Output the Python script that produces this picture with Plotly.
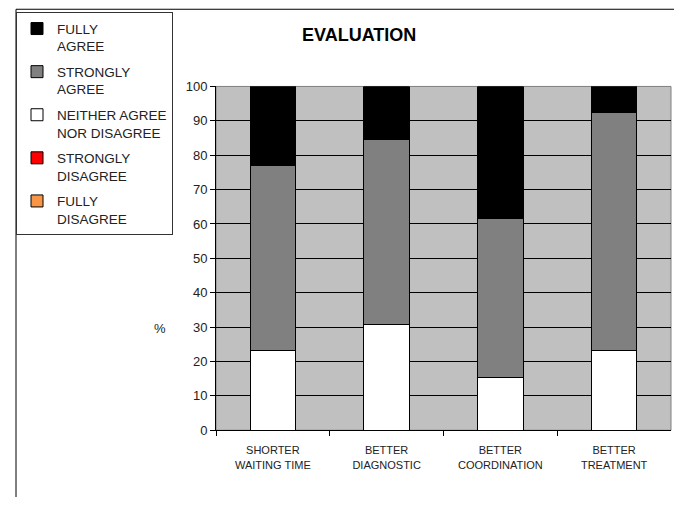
import plotly.graph_objects as go

W, H = 674, 505
S = 0.968      # vertical scale observed in the rendered page
OFF = 8        # top offset observed in the rendered page

categories = ["SHORTER<br>WAITING TIME", "BETTER<br>DIAGNOSTIC", "BETTER<br>COORDINATION", "BETTER<br>TREATMENT"]
fully_agree = [23.1, 15.4, 38.5, 7.7]
strongly_agree = [53.8, 53.8, 46.2, 69.2]
neither = [23.1, 30.8, 15.4, 23.1]
strongly_disagree = [0, 0, 0, 0]
fully_disagree = [0, 0, 0, 0]

# (name, values, colour, legend rank) in stacking order bottom -> top
series = [
    ("FULLY<br>DISAGREE", fully_disagree, "#F79646", 5),
    ("STRONGLY<br>DISAGREE", strongly_disagree, "#FF0000", 4),
    ("NEITHER AGREE<br>NOR DISAGREE", neither, "#FFFFFF", 3),
    ("STRONGLY<br>AGREE", strongly_agree, "#808080", 2),
    ("FULLY<br>AGREE", fully_agree, "#000000", 1),
]

FONT = "Arial, 'Liberation Sans', sans-serif"

fig = go.Figure()
for i, (name, vals, col, rank) in enumerate(series):
    fig.add_trace(go.Bar(
        x=categories, y=vals, name=name, legendgroup=str(i), legendrank=rank,
        marker=dict(color=col, line=dict(color="#000000", width=1)),
    ))

def px(x):
    return x / W

def py(y):
    fy = y / S - OFF
    return 1 - fy / H

fig.update_layout(
    width=W, height=H,
    margin=dict(l=0, r=0, t=0, b=0),
    paper_bgcolor="#FFFFFF",
    plot_bgcolor="#C0C0C0",
    barmode="stack",
    bargap=0.6,
    font=dict(family=FONT, size=13, color="#222222"),
    showlegend=True,
    legend=dict(
        x=px(16), y=py(13), xanchor="left", yanchor="top",
        traceorder="grouped", tracegroupgap=5,
        bgcolor="#FFFFFF", bordercolor="#333333", borderwidth=1,
        font=dict(family=FONT, size=13.5, color="#222222"),
        valign="top",
    ),
    xaxis=dict(
        domain=[px(216), px(671)],
        showline=True, linecolor="#000000", linewidth=1,
        ticks="outside", ticklen=5, tickcolor="#000000",
        tickson="boundaries", ticklabelstandoff=10,
        tickfont=dict(family=FONT, size=11, color="#222222"),
        showgrid=False, zeroline=False,
    ),
    yaxis=dict(
        domain=[py(430), py(87)],
        range=[0, 100],
        tickmode="array", tickvals=list(range(0, 101, 10)),
        showline=True, linecolor="#000000", linewidth=1,
        ticks="outside", ticklen=5, tickcolor="#000000",
        tickfont=dict(family=FONT, size=13, color="#222222"),
        showgrid=False, zeroline=False,
        minor=dict(tickvals=list(range(10, 100, 10)), showgrid=True,
                   gridcolor="#000000", gridwidth=1, ticks=""),
    ),
    shapes=[
        dict(type="rect", xref="x domain", yref="y domain", x0=0, x1=1, y0=0, y1=1,
             line=dict(color="#808080", width=1), layer="below"),
        dict(type="line", xref="paper", yref="paper", x0=px(16), x1=1, y0=py(10), y1=py(10),
             line=dict(color="#000000", width=1)),
        dict(type="line", xref="paper", yref="paper", x0=px(16), x1=px(16), y0=py(10), y1=0,
             line=dict(color="#000000", width=1)),
    ],
    annotations=[
        dict(text="<b>EVALUATION</b>", xref="paper", yref="paper", x=px(359), y=py(36),
             xanchor="center", yanchor="middle", showarrow=False,
             font=dict(family=FONT, size=18, color="#000000")),
        dict(text="%", xref="paper", yref="paper", x=px(160), y=py(328),
             xanchor="center", yanchor="middle", showarrow=False,
             font=dict(family=FONT, size=13, color="#222222")),
    ],
)

fig.write_html("out.html")
